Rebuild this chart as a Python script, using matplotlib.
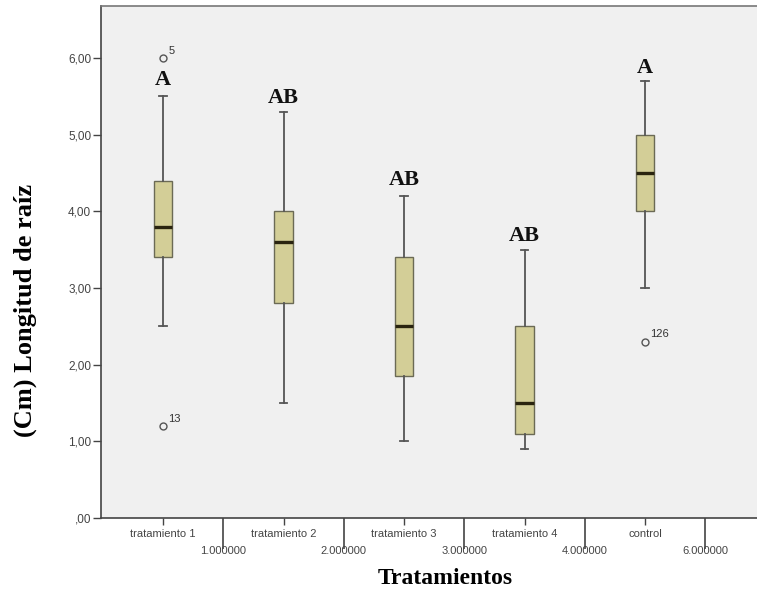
"""Boxplot of root length per treatment (SPSS-style rendering)."""
import matplotlib

matplotlib.use("Agg")
import matplotlib.pyplot as plt  # noqa: E402

# summary statistics per group (cm)
groups = ["tratamiento 1", "tratamiento 2", "tratamiento 3", "tratamiento 4", "control"]
whislo = [2.5, 1.5, 1.0, 0.9, 3.0]
q1 = [3.4, 2.8, 1.85, 1.1, 4.0]
med = [3.8, 3.6, 2.5, 1.5, 4.5]
q3 = [4.4, 4.0, 3.4, 2.5, 5.0]
whishi = [5.5, 5.3, 4.2, 3.5, 5.7]
fliers = [[6.0, 1.2], [], [], [], [2.3]]
flier_ids = [["5", "13"], [], [], [], ["126"]]

# letter groupings from the mean comparison test
letters = ["A", "AB", "AB", "AB", "A"]
letter_y = [5.71, 5.48, 4.41, 3.68, 5.87]

# numeric tick labels left over between the categories
num_labels = ["1.000000", "2.000000", "3.000000", "4.000000", "6.000000"]

BOX_FILL = "#d3ce97"
BOX_EDGE = "#6b6a55"
WHISK = "#555555"
BG = "#f0f0f0"

fig = plt.figure(figsize=(7.57, 5.94), dpi=100)
ax = fig.add_axes([101 / 757, 76 / 594, 656 / 757, 512 / 594])
ax.set_facecolor(BG)

stats = []
for i in range(len(groups)):
    stats.append(dict(label=groups[i], whislo=whislo[i], q1=q1[i], med=med[i],
                      q3=q3[i], whishi=whishi[i], fliers=fliers[i]))

positions = list(range(1, len(groups) + 1))
ax.bxp(stats, positions=positions, widths=0.15, patch_artist=True,
       showfliers=True, manage_ticks=False,
       boxprops=dict(facecolor=BOX_FILL, edgecolor=BOX_EDGE, linewidth=1.0),
       medianprops=dict(color="#2a2410", linewidth=2.4),
       whiskerprops=dict(color=WHISK, linewidth=1.3),
       capprops=dict(color=WHISK, linewidth=1.3),
       capwidths=0.06,
       flierprops=dict(marker="o", markersize=5, markerfacecolor="none",
                       markeredgecolor="#555555", markeredgewidth=1.0))

for x, vals, ids in zip(positions, fliers, flier_ids):
    for v, t in zip(vals, ids):
        ax.annotate(t, (x, v), xytext=(4, 3), textcoords="offset points",
                    fontsize=8, color="#333333", family="Liberation Sans")

for x, t, y in zip(positions, letters, letter_y):
    ax.text(x, y, t, ha="center", va="center", fontsize=16, fontweight="bold",
            family="Liberation Serif", color="#111111")

ax.set_xlim(1 - 62 / 120.5, 5 + 112 / 120.5)
ax.set_ylim(0, 512 / 76.67)
ax.set_yticks([0, 1, 2, 3, 4, 5, 6])
ax.set_yticklabels([",00", "1,00", "2,00", "3,00", "4,00", "5,00", "6,00"],
                   fontsize=8.5, color="#444444", family="Liberation Sans")
ax.tick_params(axis="y", length=6, width=1, color="#444444", pad=1)

# categories on the major ticks, the stray numeric labels half way between
ax.set_xticks(positions)
ax.set_xticklabels(groups, fontsize=8, color="#444444", family="Liberation Sans")
ax.tick_params(axis="x", which="major", length=5, width=1, color="#444444", pad=3)
ax.set_xticks([p + 0.5 for p in positions], minor=True)
ax.set_xticklabels(num_labels, minor=True, fontsize=8, color="#444444",
                   family="Liberation Sans")
ax.tick_params(axis="x", which="minor", length=22, width=1.2, color="#444444",
               pad=-2)

ax.spines["right"].set_visible(False)
ax.spines["top"].set_color("#777777")
ax.spines["top"].set_linewidth(1.2)
for side in ("left", "bottom"):
    ax.spines[side].set_color("#444444")
    ax.spines[side].set_linewidth(1.2)

fig.text(25 / 757, 1 - 310 / 594, "(Cm) Longitud de raíz", rotation=90,
         ha="center", va="center", fontsize=19, fontweight="bold",
         family="Liberation Serif")
fig.text(445 / 757, 1 - 578 / 594, "Tratamientos", ha="center", va="center",
         fontsize=17, fontweight="bold", family="Liberation Serif")

fig.savefig("out.png", dpi=100)
plt.close(fig)
